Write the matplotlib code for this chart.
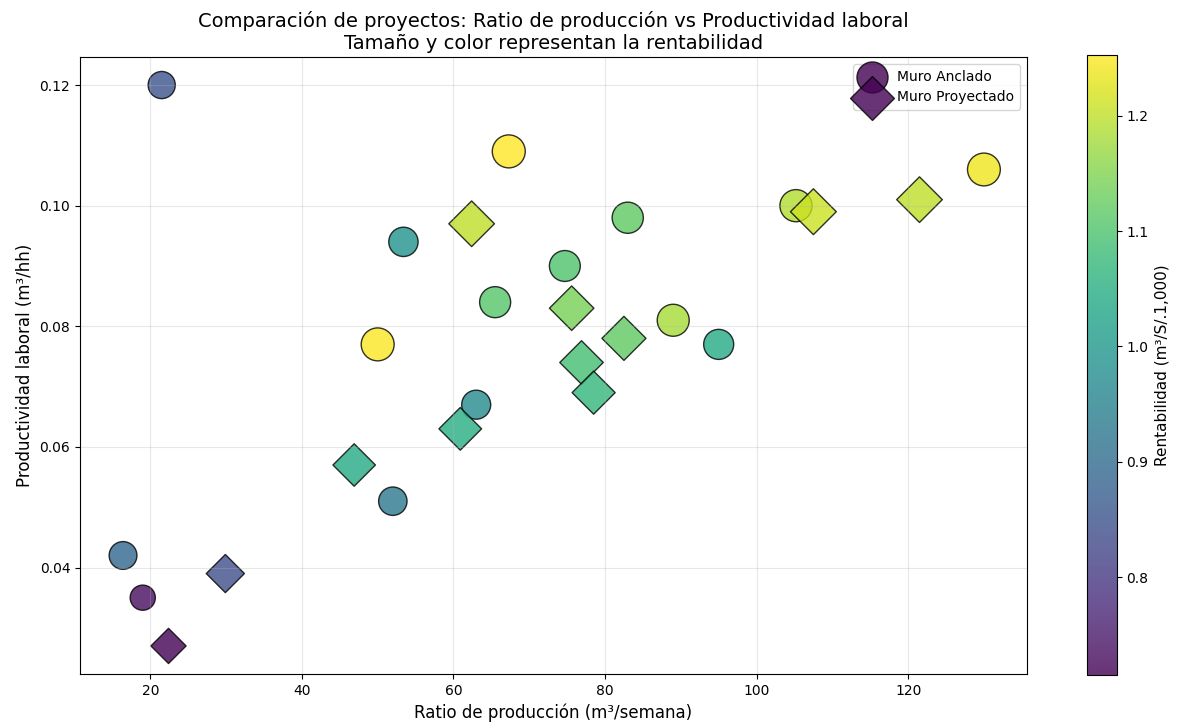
import matplotlib
matplotlib.use("Agg")
import matplotlib.pyplot as plt
import numpy as np

# Muro Anclado (circles)
anc_x = [21.5, 67.3, 53.4, 83.0, 74.7, 65.5, 50.0, 89.0, 95.0, 63.0, 52.0, 16.4, 19.0, 105.2, 130.0]
anc_y = [0.120, 0.109, 0.094, 0.098, 0.090, 0.084, 0.077, 0.081, 0.077, 0.067, 0.051, 0.042, 0.035, 0.100, 0.106]
anc_r = [0.85, 1.253, 0.99, 1.12, 1.10, 1.11, 1.25, 1.18, 1.04, 0.97, 0.93, 0.89, 0.73, 1.19, 1.24]

# Muro Proyectado (diamonds)
pro_x = [62.4, 75.6, 82.5, 76.9, 78.5, 60.9, 46.9, 29.9, 22.4, 107.5, 121.5]
pro_y = [0.097, 0.083, 0.078, 0.074, 0.069, 0.063, 0.057, 0.039, 0.027, 0.099, 0.101]
pro_r = [1.20, 1.14, 1.12, 1.09, 1.07, 1.05, 1.04, 0.84, 0.715, 1.21, 1.20]

fig = plt.figure(figsize=(11.8, 7.28), dpi=100)
ax = fig.add_axes([0.0678, 0.0742, 0.8025, 0.8475])
cax = fig.add_axes([0.921, 0.0728, 0.0254, 0.852])

allr = anc_r + pro_r
vmin, vmax = min(allr), max(allr)
scale = 450

sc1 = ax.scatter(anc_x, anc_y, c=anc_r, s=np.array(anc_r) * scale, cmap='viridis',
                 vmin=vmin, vmax=vmax, marker='o', alpha=0.8, edgecolors='black',
                 linewidths=1, label='Muro Anclado')
sc2 = ax.scatter(pro_x, pro_y, c=pro_r, s=np.array(pro_r) * scale, cmap='viridis',
                 vmin=vmin, vmax=vmax, marker='D', alpha=0.8, edgecolors='black',
                 linewidths=1, label='Muro Proyectado')

cb = fig.colorbar(sc1, cax=cax)
cb.set_label('Rentabilidad (m³/S/.1,000)', fontsize=11)

ax.set_title('Comparación de proyectos: Ratio de producción vs Productividad laboral\n'
             'Tamaño y color representan la rentabilidad', fontsize=14)
ax.set_xlabel('Ratio de producción (m³/semana)', fontsize=12)
ax.set_ylabel('Productividad laboral (m³/hh)', fontsize=12)
ax.grid(True, alpha=0.3)
leg = ax.legend(loc='upper right')
low = plt.get_cmap('viridis')(0.0)
for h in leg.legend_handles:
    h.set_array(None)
    h.set_facecolor(low)
    h.set_edgecolor('black')
    h.set_alpha(0.8)
    h.set_sizes([500])

fig.savefig('out.png', dpi=100)
